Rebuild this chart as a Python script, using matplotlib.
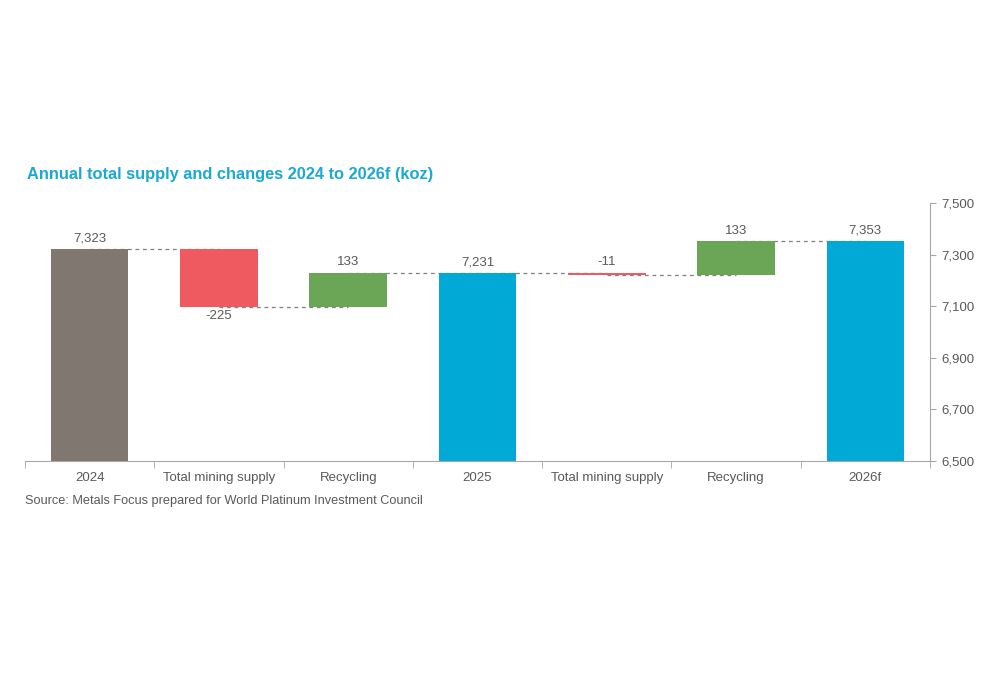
import matplotlib
matplotlib.use("Agg")
import matplotlib.pyplot as plt
import numpy as np

plt.rcParams['font.family'] = ['Liberation Sans', 'DejaVu Sans']

categories = ["2024", "Total mining supply", "Recycling", "2025",
              "Total mining supply", "Recycling", "2026f"]
values = [7323, -225, 133, 7231, -11, 133, 7353]
is_total = [True, False, False, True, False, False, True]
label_above = [True, False, True, True, True, True, True]
yticks = [6500, 6700, 6900, 7100, 7300, 7500]

c_total_first = "#7F7770"
c_total = "#00A9D6"
c_neg = "#EE5A5F"
c_pos = "#6AA656"
txt = "#595959"

fig = plt.figure(figsize=(10, 6.75), dpi=100)
ax = fig.add_axes([0.025, 0.317, 0.905, 0.382])
ymin = 6500
x = np.arange(len(categories))
width = 0.6

running = 0
tops = []
for i, (v, tot) in enumerate(zip(values, is_total)):
    if tot:
        bottom, height = ymin, v - ymin
        running = v
        color = c_total_first if i == 0 else c_total
        level_after = v
        top, low = v, ymin
    else:
        start = running
        running = start + v
        bottom = min(start, running)
        height = abs(v)
        color = c_pos if v > 0 else c_neg
        level_after = running
        top, low = max(start, running), min(start, running)
    lab = f"{v:,}"
    ax.bar(x[i], height, bottom=bottom, width=width, color=color, zorder=3)
    if label_above[i]:
        ax.text(x[i], top + 17, lab, ha='center', va='bottom', fontsize=9.5, color=txt)
    else:
        ax.text(x[i], low - 14, lab, ha='center', va='top', fontsize=9.5, color=txt)
    tops.append(level_after)

# connectors
for i in range(len(values) - 1):
    ax.plot([x[i], x[i + 1]], [tops[i], tops[i]], ls=(0, (3, 3)), color="#7F7F7F",
            lw=0.9, zorder=2)

ax.set_xlim(-0.5, len(categories) - 0.5)
ax.set_ylim(6500, 7500)
ax.yaxis.tick_right()
ax.set_yticks(yticks)
ax.set_yticklabels([f"{t:,}" for t in yticks], fontsize=9.5, color=txt)
ax.tick_params(axis='y', length=4, color="#A6A6A6", pad=4)

ax.set_xticks(x)
ax.set_xticklabels(categories, fontsize=9.5, color=txt)
ax.tick_params(axis='x', length=0, pad=8)
ax.set_xticks(np.arange(-0.5, len(categories) + 0.5, 1), minor=True)
ax.tick_params(axis='x', which='minor', length=5, color="#A6A6A6", direction='out')

for s in ['top', 'left']:
    ax.spines[s].set_visible(False)
ax.spines['right'].set_color("#A6A6A6")
ax.spines['bottom'].set_color("#A6A6A6")

fig.text(0.027, 0.742, "Annual total supply and changes 2024 to 2026f (koz)",
         fontsize=11.8, fontweight='bold', color="#1BA9D1", va='center', ha='left')
fig.text(0.025, 0.258, "Source: Metals Focus prepared for World Platinum Investment Council",
         fontsize=9.2, color=txt, va='center', ha='left')

fig.savefig("out.png", dpi=100, facecolor='white')
